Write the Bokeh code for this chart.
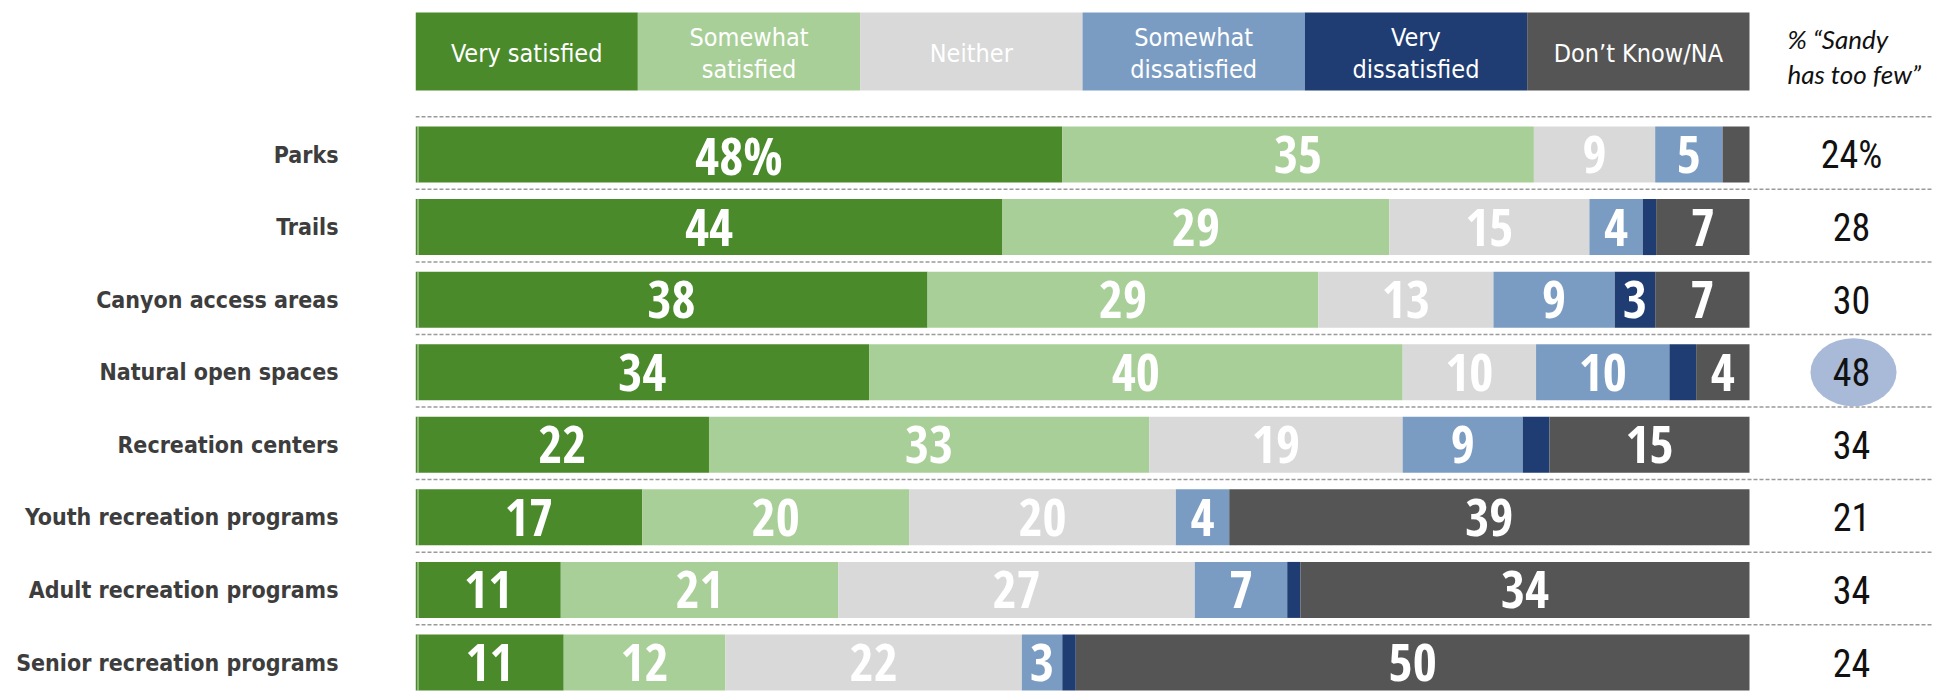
from bokeh.plotting import figure
from bokeh.models import Range1d, FixedTicker
from bokeh.core.properties import value
from bokeh.embed import file_html
from bokeh.resources import INLINE

# ---------------- data ----------------
rows = ["Parks", "Trails", "Canyon access areas", "Natural open spaces",
        "Recreation centers", "Youth recreation programs",
        "Adult recreation programs", "Senior recreation programs"]
categories = ["Very satisfied", "Somewhat\nsatisfied", "Neither",
              "Somewhat\ndissatisfied", "Very\ndissatisfied", "Don\u2019t Know/NA"]
very_satisfied        = [48, 44, 38, 34, 22, 17, 11, 11]
somewhat_satisfied    = [35, 29, 29, 40, 33, 20, 21, 12]
neither               = [9, 15, 13, 10, 19, 20, 27, 22]
somewhat_dissatisfied = [5, 4, 9, 10, 9, 4, 7, 3]
very_dissatisfied     = [0, 1, 3, 2, 2, 0, 1, 1]
dont_know             = [2, 7, 7, 4, 15, 39, 34, 50]
too_few_labels        = ["24%", "28", "30", "48", "34", "21", "34", "24"]
right_title           = ["% \u201cSandy", "has too few\u201d"]
highlight_row         = 3
colors = ["#4A8A2B", "#A9CF98", "#D9D9D9", "#7B9CC2", "#1F3C73", "#555555"]

series = [very_satisfied, somewhat_satisfied, neither,
          somewhat_dissatisfied, very_dissatisfied, dont_know]

# ---------------- layout constants ----------------
FIG_W, FIG_H = 1952, 698
LEFT = 415            # px from figure left to bar start
PX_PER = 13.34        # px per percentage point
FIRST = 154.0         # px from top to first row centre
LAST = 662.0          # px from top to last row centre
ROW = (LAST - FIRST) / 7
y_top = -FIRST / ROW
y_bot = y_top + FIG_H / ROW
def xd(px):
    return (px - LEFT) / PX_PER
def yd(px):
    return y_top + px / ROW

FONT_LABEL = "DejaVu Sans Condensed"
FONT_NUM = "Open Sans Condensed"
FONT_VAL = "Roboto Condensed"

p = figure(width=FIG_W, height=FIG_H, output_backend="svg", toolbar_location=None,
           x_range=Range1d(0, xd(FIG_W)), y_range=Range1d(y_bot, y_top),
           x_axis_location=None, min_border_left=LEFT, min_border_right=0,
           min_border_top=0, min_border_bottom=0)
p.outline_line_color = None
p.grid.visible = False

ax = p.yaxis[0]
ax.ticker = FixedTicker(ticks=list(range(len(rows))))
ax.major_label_overrides = {i: r for i, r in enumerate(rows)}
ax.major_label_text_font = FONT_LABEL
ax.major_label_text_font_style = "bold"
ax.major_label_text_font_size = "23px"
ax.major_label_text_color = "#3D3D3D"
ax.major_label_standoff = 77
ax.major_tick_out = 0
ax.major_tick_in = 0
ax.minor_tick_out = 0
ax.minor_tick_in = 0
ax.axis_line_color = None

n = len(rows)
p.segment(x0=[0] * n, x1=[xd(1932)] * n, y0=[i - 0.52 for i in range(n)],
          y1=[i - 0.52 for i in range(n)], line_color="#9A9A9A", line_width=1.5,
          line_dash="4 2")

bh = 56 / ROW
lefts, rights, ys, cols, mids, labs, lab_y = [], [], [], [], [], [], []
for i in range(n):
    vals = [s[i] for s in series]
    tot = float(sum(vals))
    acc = 0.0
    for j, v in enumerate(vals):
        l = acc / tot * 100
        acc += v
        r = acc / tot * 100
        if v > 0:
            lefts.append(l); rights.append(r); ys.append(i); cols.append(colors[j])
        if v >= 3:
            mids.append((l + r) / 2)
            lab_y.append(i)
            labs.append(f"{v}%" if (i == 0 and j == 0) else str(v))
p.hbar(y=ys, left=lefts, right=rights, height=bh, fill_color=cols,
       line_color=None)
# thin light edge line just inside the bar start
p.segment(x0=[xd(LEFT + 2.5)] * n, x1=[xd(LEFT + 2.5)] * n,
          y0=[i - bh / 2 for i in range(n)], y1=[i + bh / 2 for i in range(n)],
          line_color="white", line_alpha=0.6, line_width=1.2)
p.text(x=mids, y=lab_y, text=labs, text_color="white", text_font=value(FONT_NUM),
       text_font_style="bold", text_font_size="52px", text_align="center",
       text_baseline="middle")

hy = yd(51)
hh = 78 / ROW
w = 100 / len(categories)
p.hbar(y=[hy] * len(categories), left=[k * w for k in range(len(categories))],
       right=[(k + 1) * w for k in range(len(categories))], height=hh,
       fill_color=colors, line_color=None)
p.text(x=[(k + 0.5) * w for k in range(len(categories))], y=[yd(53)] * len(categories),
       text=categories, text_color="white", text_font=value(FONT_LABEL),
       text_font_size="25px", text_align="center", text_baseline="middle",
       text_line_height=1.08)

hx = xd(1851)
p.ellipse(x=[xd(1853)], y=[highlight_row], width=86, height=68, width_units="screen",
          height_units="screen", fill_color="#A8BAD7", line_color=None)
p.text(x=[hx] * n, y=list(range(n)), text=too_few_labels, text_color="#111111",
       text_font=value(FONT_VAL), text_font_size="38px", text_align="center",
       text_baseline="middle")
p.text(x=[xd(1787)] * 2, y=[yd(38), yd(73)], text=right_title,
       text_color="#111111", text_font=value("Lato"), text_font_style="italic",
       text_font_size="26px", text_align="left", text_baseline="middle")

open("out.html", "w").write(file_html(p, INLINE))
